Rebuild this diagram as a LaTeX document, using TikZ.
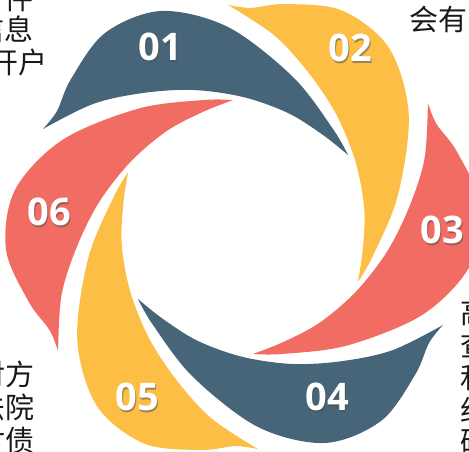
\documentclass[tikz,border=0pt]{standalone}
\usepackage{fontspec}
\newfontfamily\numfont{Open Sans}
\newfontfamily\cjkfont{Noto Sans CJK SC}
\definecolor{slateblue}{HTML}{466579}
\definecolor{sunyellow}{HTML}{FCBE45}
\definecolor{coralred}{HTML}{F16C62}
\tikzset{
  numtext/.style={text=white, font=\numfont\bfseries\fontsize{38}{38}\selectfont, inner sep=0pt},
  numshade/.style={numtext, text=black!70, opacity=0.5},
  sidetext/.style={text=black!90, font=\cjkfont\fontsize{29}{29}\selectfont, inner sep=0pt},
}
% one petal, the others are turned by 60 degrees
\def\PETAL{plot[smooth,tension=0.55] coordinates {(-200,98) (-186,116) (-172,148) (-138,194) (-82,216) (-15,200) (50,150) (90,98) (105,72)}
  -- plot[smooth,tension=0.55] coordinates {(105,72) (80,92) (45,114) (0,130) (-50,137) (-100,134) (-150,123) (-200,98)} -- cycle}
\begin{document}
\begin{tikzpicture}[x=1pt,y=1pt]

\def\COLORONE{slateblue}
\def\COLORTWO{sunyellow}
\def\COLORTHREE{coralred}
	\useasboundingbox (-243,-225) rectangle (226,227);
	\fill[\COLORONE] \PETAL;
	\fill[\COLORTWO, rotate=-60] \PETAL;
	\fill[\COLORTHREE, rotate=-120] \PETAL;
	\fill[\COLORONE, rotate=-180] \PETAL;
	\fill[\COLORTWO, rotate=-240] \PETAL;
	\fill[\COLORTHREE, rotate=-300] \PETAL;

	\node[numshade] (s1) at (-81.5,178.5) {01};
	\node[numtext] (n1) at (-83,180) {01};
	\node[numshade] (s2) at (108.5,177.5) {02};
	\node[numtext] (n2) at (107,179) {02};
	\node[numshade] (s3) at (200.5,-4.5) {03};
	\node[numtext] (n3) at (199,-3) {03};
	\node[numshade] (s4) at (85.5,-171.5) {04};
	\node[numtext] (n4) at (84,-170) {04};
	\node[numshade] (s5) at (-104.5,-171.5) {05};
	\node[numtext] (n5) at (-106,-170) {05};
	\node[numshade] (s6) at (-192.5,13.5) {06};
	\node[numtext] (n6) at (-194,15) {06};

	\node[sidetext, anchor=east] (t1) at (-209,228) {件};
	\node[sidetext, anchor=east] (t2) at (-209,198) {信息};
	\node[sidetext, anchor=east] (t3) at (-195,165) {开户};
	\node[sidetext, anchor=west] (t4) at (166,208) {会有};
	\node[sidetext, anchor=west] (t5) at (217,-85) {高};
	\node[sidetext, anchor=west] (t6) at (217,-118) {查};
	\node[sidetext, anchor=west] (t7) at (217,-151) {和};
	\node[sidetext, anchor=west] (t8) at (217,-183) {约};
	\node[sidetext, anchor=west] (t9) at (217,-215) {码};
	\node[sidetext, anchor=east] (t10) at (-208,-147) {对方};
	\node[sidetext, anchor=east] (t11) at (-208,-180) {法院};
	\node[sidetext, anchor=east] (t12) at (-208,-213) {讨债};

\end{tikzpicture}
\end{document}
